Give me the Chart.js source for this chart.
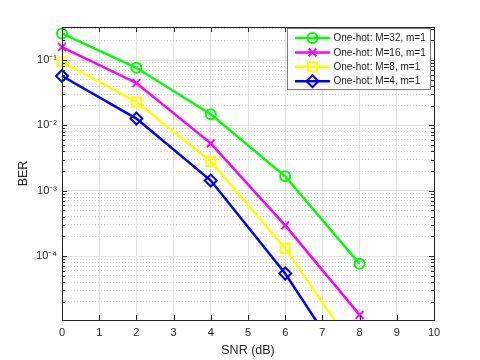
<!DOCTYPE html>
<html>
<head>
<meta charset="utf-8">
<script src="https://cdn.jsdelivr.net/npm/chart.js@4/dist/chart.umd.min.js"></script>
<style>
  html, body { margin: 0; padding: 0; background: #fff; }
</style>
</head>
<body>
<canvas id="chart" width="480" height="360"></canvas>
<script>
// values
const snr = [0, 2, 4, 6, 8];
const berM32 = [0.255, 0.076, 0.0148, 0.00166, 7.6e-5];
const berM16 = [0.158, 0.0445, 0.0053, 2.95e-4, 1.26e-5];
const berM8 = [0.094, 0.0229, 0.0028, 1.32e-4, 2.9e-6];
const berM4 = [0.057, 0.0127, 0.00143, 5.4e-5, 1.0e-6];

const seriesLabels = ['One-hot: M=32, m=1', 'One-hot: M=16, m=1', 'One-hot: M=8, m=1', 'One-hot: M=4, m=1'];
const seriesColors = ['#00ff00', '#ff00ff', '#ffff00', '#0000ff'];
const seriesMarkers = ['circle', 'crossRot', 'rect', 'rectRot'];
const markerSizes = [5, 5.5, 6.5, 6];

const yDecades = [1e-5, 1e-4, 1e-3, 1e-2, 1e-1];
const yDecadeLabels = ['10⁻⁵', '10⁻⁴', '10⁻³', '10⁻²', '10⁻¹'];
const yMin = 1.05e-5, yMax = 0.32;
const xMin = 0, xMax = 10;

const axisColor = '#262626';
const font = '"Liberation Sans", Arial, Helvetica, sans-serif';

function isMajor(v) {
  const l = Math.log10(v);
  return Math.abs(l - Math.round(l)) < 1e-9;
}

// decades plus 2..9 minor steps within the limits
let yTicks = [];
yDecades.forEach(function(d) {
  for (let k = 1; k < 10; k++) {
    const v = k === 1 ? d : parseFloat((d * k).toPrecision(6));
    if (v >= yMin && v <= yMax) yTicks.push(v);
  }
});

const series = [berM32, berM16, berM8, berM4];
const datasets = series.map(function(vals, i) {
  return {
    label: seriesLabels[i],
    data: snr.map(function(x, j) { return {x: x, y: vals[j]}; }),
    borderColor: seriesColors[i],
    backgroundColor: seriesColors[i],
    borderWidth: 2.5,
    pointStyle: seriesMarkers[i],
    pointRadius: markerSizes[i],
    pointBorderWidth: 2,
    pointBorderColor: seriesColors[i],
    pointBackgroundColor: 'rgba(0,0,0,0)',
    tension: 0,
    fill: false,
    clip: {left: 10, top: 10, right: 10, bottom: 0}
  };
});

// box round the axes, inward ticks, and the inset legend
const matlabFrame = {
  id: 'matlabFrame',
  afterDraw(chart) {
    const ctx = chart.ctx;
    const a = chart.chartArea;
    const xs = chart.scales.x, ys = chart.scales.y;
    ctx.save();
    ctx.strokeStyle = axisColor;
    ctx.lineWidth = 1;
    ctx.strokeRect(Math.round(a.left) + 0.5, Math.round(a.top) + 0.5,
                   Math.round(a.right - a.left), Math.round(a.bottom - a.top));
    ctx.beginPath();
    for (let v = xMin; v <= xMax; v++) {
      const px = Math.round(xs.getPixelForValue(v)) + 0.5;
      ctx.moveTo(px, a.bottom); ctx.lineTo(px, a.bottom - 5);
      ctx.moveTo(px, a.top); ctx.lineTo(px, a.top + 5);
    }
    yTicks.forEach(function(v) {
      const py = Math.round(ys.getPixelForValue(v)) + 0.5;
      const len = isMajor(v) ? 5 : 3;
      ctx.moveTo(a.left, py); ctx.lineTo(a.left + len, py);
      ctx.moveTo(a.right, py); ctx.lineTo(a.right - len, py);
    });
    ctx.stroke();

    // legend
    const lx = 287.5, ly = 28.5, lw = 143, lh = 61;
    ctx.fillStyle = '#ffffff';
    ctx.fillRect(lx, ly, lw, lh);
    ctx.strokeStyle = '#7a7a7a';
    ctx.strokeRect(lx, ly, lw, lh);
    ctx.font = '10px ' + font;
    ctx.textBaseline = 'middle';
    ctx.textAlign = 'left';
    chart.data.datasets.forEach(function(ds, i) {
      const ry = ly + 9.5 + i * 14.4;
      ctx.strokeStyle = ds.borderColor;
      ctx.lineWidth = 2.5;
      ctx.beginPath();
      ctx.moveTo(295, ry); ctx.lineTo(330, ry);
      ctx.stroke();
      ctx.fillStyle = 'rgba(0,0,0,0)';
      ctx.lineWidth = 2;
      Chart.helpers.drawPoint(ctx, {
        pointStyle: ds.pointStyle, radius: ds.pointRadius, rotation: 0, borderWidth: 2
      }, 312.5, ry);
      ctx.fillStyle = '#1a1a1a';
      ctx.fillText(ds.label, 333.5, ry + 0.5);
    });
    ctx.restore();
  }
};

new Chart(document.getElementById('chart'), {
  type: 'line',
  data: { datasets: datasets },
  plugins: [matlabFrame],
  options: {
    responsive: false,
    animation: false,
    events: [],
    layout: { padding: { left: 0, top: 27, right: 46, bottom: 0 } },
    plugins: {
      legend: { display: false },
      tooltip: { enabled: false }
    },
    scales: {
      x: {
        type: 'linear',
        min: xMin,
        max: xMax,
        afterFit: function(scale) { scale.height = 40; },
        ticks: {
          stepSize: 1,
          padding: 6,
          color: axisColor,
          font: { family: font, size: 11 }
        },
        grid: { color: '#e2e2e2', drawTicks: false },
        border: { display: false },
        title: {
          display: true,
          text: 'SNR (dB)',
          color: axisColor,
          font: { family: font, size: 12.5 },
          padding: { top: 2, bottom: 2 }
        }
      },
      y: {
        type: 'logarithmic',
        min: yMin,
        max: yMax,
        afterFit: function(scale) { scale.width = 62; },
        afterBuildTicks: function(scale) {
          scale.ticks = yTicks.map(function(v) { return {value: v, major: isMajor(v)}; });
        },
        ticks: {
          autoSkip: false,
          padding: 5,
          color: axisColor,
          font: { family: font, size: 11 },
          callback: function(value) {
            const idx = yDecades.indexOf(value);
            return idx >= 0 ? yDecadeLabels[idx] : '';
          }
        },
        grid: {
          drawTicks: false,
          color: function(c) {
            return c.tick && !isMajor(c.tick.value) ? '#cfcfcf' : '#e2e2e2';
          }
        },
        border: {
          display: false,
          dash: function(c) {
            return c.tick && !isMajor(c.tick.value) ? [1, 2] : [];
          }
        },
        title: {
          display: true,
          text: 'BER',
          color: axisColor,
          font: { family: font, size: 12.5 },
          padding: { top: 16, bottom: 0 }
        }
      }
    }
  }
});
</script>
</body>
</html>
